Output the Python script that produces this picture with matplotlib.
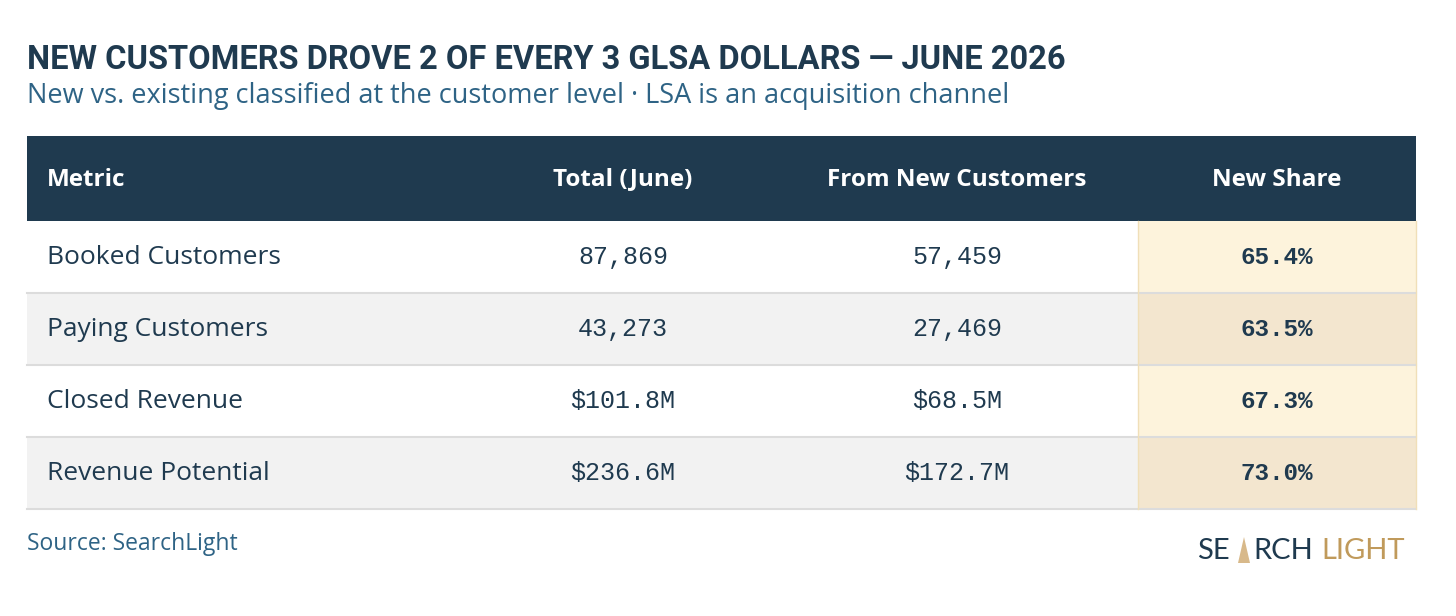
import matplotlib.pyplot as plt
from matplotlib.patches import Rectangle, Polygon

metrics = ["Booked Customers", "Paying Customers", "Closed Revenue", "Revenue Potential"]
totals = ["87,869", "43,273", "$101.8M", "$236.6M"]
from_new = ["57,459", "27,469", "$68.5M", "$172.7M"]
new_share = ["65.4%", "63.5%", "67.3%", "73.0%"]
headers = ["Metric", "Total (June)", "From New Customers", "New Share"]

W, H = 1456, 616
NAVY = "#1f3a4f"
fig = plt.figure(figsize=(W / 100, H / 100), dpi=100)
ax = fig.add_axes([0, 0, 1, 1])
ax.set_xlim(0, W)
ax.set_ylim(H, 0)
ax.axis("off")

# title: fit to the reference width (no condensed font installed)
title = ax.text(27, 60, "NEW CUSTOMERS DROVE 2 OF EVERY 3 GLSA DOLLARS — JUNE 2026",
                fontsize=30, fontweight="bold", color=NAVY, va="center", family="Roboto")
rend = fig.canvas.get_renderer()
tw = title.get_window_extent(rend).width
title.set_fontsize(30 * 1037 / tw)

ax.text(27, 96, "New vs. existing classified at the customer level · LSA is an acquisition channel",
        fontsize=19.5, color="#2e6385", va="center", family="Open Sans")

x0, x1, share_x = 27, 1416, 1138
top, hdr_h, row_h = 136, 85, 72
ax.add_patch(Rectangle((x0, top), x1 - x0, hdr_h, color=NAVY, lw=0))
col_x = [47, 623, 957, 1277]
for i, h in enumerate(headers):
    ax.text(col_x[i], top + hdr_h / 2 + 1, h, color="white", fontsize=17.5, fontweight="bold",
            ha="left" if i == 0 else "center", va="center", family="Open Sans")

for r in range(len(metrics)):
    y = top + hdr_h + r * row_h
    bg = "white" if r % 2 == 0 else "#f2f2f2"
    sh = "#fdf3dc" if r % 2 == 0 else "#f3e6cf"
    ax.add_patch(Rectangle((x0, y), share_x - x0, row_h, color=bg, lw=0))
    ax.add_patch(Rectangle((share_x, y), x1 - share_x, row_h, color=sh, lw=0))
    ax.plot([x0, x1], [y + row_h, y + row_h], color="#dcdcdc", lw=1.5)
    cy = y + row_h / 2
    ax.text(47, cy, metrics[r], fontsize=19, color=NAVY, va="center", family="Open Sans")
    ax.text(623, cy, totals[r], fontsize=18, color=NAVY, va="center", ha="center", family="Liberation Mono")
    ax.text(957, cy, from_new[r], fontsize=18, color=NAVY, va="center", ha="center", family="Liberation Mono")
    ax.text(1277, cy, new_share[r], fontsize=17.5, color=NAVY, va="center", ha="center",
            fontweight="bold", family="Liberation Mono")
ax.plot([share_x, share_x], [top + hdr_h, top + hdr_h + 4 * row_h], color="#f0dfb8", lw=1)
ax.plot([x1, x1], [top + hdr_h, top + hdr_h + 4 * row_h], color="#f0dfb8", lw=1)

ax.text(27, 544, "Source: SearchLight", fontsize=16.5, color="#2e6385", va="center", family="Open Sans")

# logo
ly = 551
fs = 21
ax.text(1197, ly, "SE", fontsize=fs, color=NAVY, va="center", family="Lato")
ax.add_patch(Polygon([(1238, 563), (1250, 563), (1244, 537)], closed=True, color="#d8b98a", lw=0))
ax.text(1253, ly, "RCH", fontsize=fs, color=NAVY, va="center", family="Lato")
ax.text(1321, ly, "LIGHT", fontsize=fs, color="#c09a5b", va="center", family="Lato")

fig.savefig("out.png", dpi=100)
